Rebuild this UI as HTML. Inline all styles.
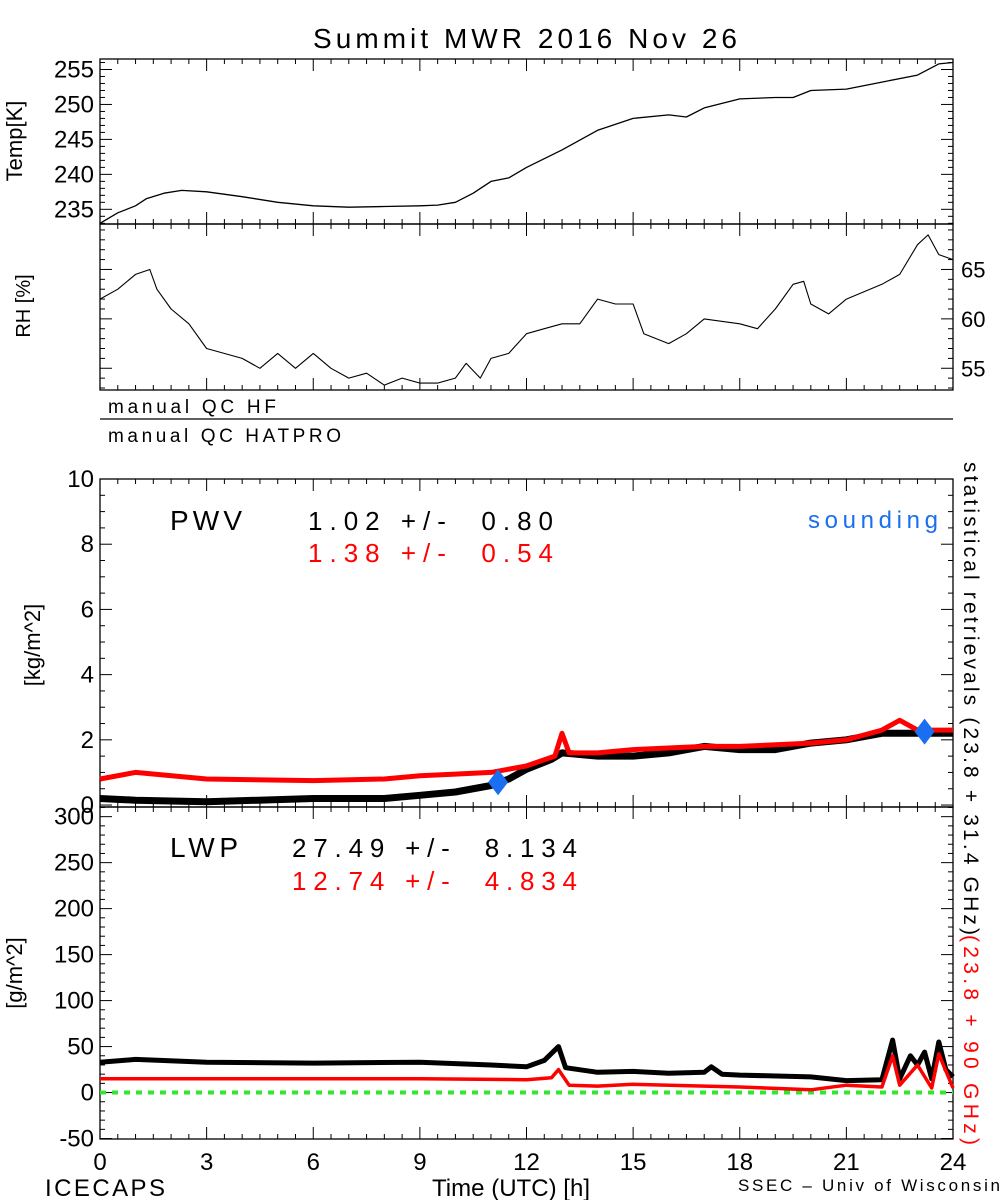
<!DOCTYPE html>
<html><head><meta charset="utf-8">
<style>
html,body{margin:0;padding:0;background:#fff;}
svg{display:block;font-family:"Liberation Sans",sans-serif;}
text{white-space:pre;}
</style></head>
<body>
<svg id="chart" width="1000" height="1200" viewBox="0 0 1000 1200" xmlns="http://www.w3.org/2000/svg">
<rect width="1000" height="1200" fill="#fff"/>
<text x="313" y="48" font-size="28" textLength="424" lengthAdjust="spacing">Summit MWR 2016 Nov 26</text>
<g id="g"></g>
<text x="108" y="413" font-size="19" textLength="168" lengthAdjust="spacing">manual QC HF</text>
<line x1="100" y1="419" x2="953" y2="419" stroke="#000" stroke-width="1.3"/>
<text x="108" y="442" font-size="19" textLength="233" lengthAdjust="spacing">manual QC HATPRO</text>
<text x="170" y="530" font-size="28" textLength="72" lengthAdjust="spacing">PWV</text>
<text x="308" y="530" font-size="26" textLength="245" lengthAdjust="spacing">1.02 +/-  0.80</text>
<text x="308" y="562" font-size="26" fill="#f00" textLength="245" lengthAdjust="spacing">1.38 +/-  0.54</text>
<text x="808" y="528" font-size="24" fill="#1a6ff0" textLength="130" lengthAdjust="spacing">sounding</text>
<text x="170" y="857" font-size="28" textLength="68" lengthAdjust="spacing">LWP</text>
<text x="292" y="857" font-size="26" textLength="285" lengthAdjust="spacing">27.49 +/-  8.134</text>
<text x="292" y="890" font-size="26" fill="#f00" textLength="285" lengthAdjust="spacing">12.74 +/-  4.834</text>
<text transform="translate(964,462) rotate(90)" font-size="21" textLength="473" lengthAdjust="spacing">statistical retrievals (23.8 + 31.4 GHz)</text>
<text transform="translate(964,935) rotate(90)" font-size="21" fill="#f00" textLength="210" lengthAdjust="spacing">(23.8 + 90 GHz)</text>
<text transform="translate(22,141) rotate(-90)" font-size="22" text-anchor="middle">Temp[K]</text>
<text transform="translate(30,306) rotate(-90)" font-size="20" text-anchor="middle">RH [%]</text>
<text transform="translate(40,645) rotate(-90)" font-size="22" text-anchor="middle">[kg/m^2]</text>
<text transform="translate(22,973) rotate(-90)" font-size="22" text-anchor="middle">[g/m^2]</text>
<text x="45" y="1196" font-size="24" textLength="120" lengthAdjust="spacing">ICECAPS</text>
<text x="432" y="1196" font-size="24" textLength="158" lengthAdjust="spacing">Time (UTC) [h]</text>
<text x="738" y="1191" font-size="17" textLength="262" lengthAdjust="spacing">SSEC – Univ of Wisconsin</text>
</svg>
<script>
const hours=[0,3,6,9,12,15,18,21,24];
const tempT=[0,0.5,1,1.3,1.8,2.3,3,4,5,6,7,8,9,9.5,10,10.5,11,11.5,12,13,14,15,16,16.5,17,18,19,19.5,20,21,22,23,23.6,24];
const tempV=[233,234.5,235.5,236.5,237.3,237.7,237.5,236.8,236,235.5,235.3,235.4,235.5,235.6,236,237.3,239,239.5,241,243.5,246.3,248,248.5,248.2,249.5,250.8,251,251,252,252.2,253.2,254.2,255.8,256];
const rhT=[0,0.5,1,1.4,1.6,2,2.5,3,4,4.5,5,5.5,6,6.5,7,7.5,8,8.5,9,9.5,10,10.3,10.7,11,11.5,12,12.5,13,13.5,14,14.5,15,15.3,16,16.5,17,18,18.5,19,19.5,19.8,20,20.5,21,22,22.5,23,23.3,23.6,24];
const rhV=[62,63,64.5,65,63,61,59.5,57,56,55,56.5,55,56.5,55,54,54.5,53.3,54,53.5,53.5,54,55.5,54,56,56.5,58.5,59,59.5,59.5,62,61.5,61.5,58.5,57.5,58.5,60,59.5,59,61,63.5,63.8,61.5,60.5,62,63.5,64.5,67.5,68.5,66.5,66];
const pwvT=[0,1,3,6,8,9,10,11,11.5,12,12.7,13,14,15,16,17,18,19,20,21,22,23,24];
const pwvBlack=[0.2,0.15,0.1,0.2,0.2,0.3,0.4,0.6,0.8,1.1,1.4,1.6,1.5,1.5,1.6,1.8,1.7,1.7,1.9,2.0,2.2,2.2,2.2];
const pwvRedT=[0,1,3,6,8,9,10,11,12,12.8,13,13.2,14,15,17,18,20,21,22,22.5,23,24];
const pwvRed=[0.8,1.0,0.8,0.75,0.8,0.9,0.95,1.0,1.2,1.5,2.2,1.6,1.6,1.7,1.8,1.8,1.9,2.0,2.3,2.6,2.3,2.3];
const soundT=[11.2,23.2];
const soundV=[0.7,2.25];
const lwpBT=[0,1,3,6,9,11,12,12.5,12.9,13.1,14,15,16,17,17.2,17.5,18,20,21,22,22.3,22.5,22.8,23,23.2,23.4,23.6,23.8,24];
const lwpBlack=[33,36,33,32,33,30,28,35,50,27,22,23,21,22,28,20,19,17,13,14,57,15,40,30,44,15,55,25,17];
const lwpRT=[0,6,9,12,12.7,12.9,13.2,14,15,18,20,21,22,22.3,22.5,23,23.4,23.6,24];
const lwpRed=[15,15,15,14,16,25,8,7,9,6,3,8,6,40,8,30,5,42,5];
const tempTicks=[235,240,245,250,255];
const rhTicks=[55,60,65];
const pwvTicks=[0,2,4,6,8,10];
const lwpTicks=[-50,0,50,100,150,200,250,300];

const NS="http://www.w3.org/2000/svg";
const g=document.getElementById('g');
const L=100,R=953;
const X=h=>L+(R-L)*h/24;
function mk(t,a){const e=document.createElementNS(NS,t);for(const k in a)e.setAttribute(k,a[k]);g.appendChild(e);return e;}
function yScale(top,bot,vTop,vBot){return v=>top+(v-vTop)/(vBot-vTop)*(bot-top);}
const yT=yScale(59,224,256.5,232.9);
const yRH=yScale(224,390,69.6,52.8);
const yP=yScale(479,807,10,-0.06);
const yL=yScale(807,1139,310.5,-50.5);

function frame(top,bot,name){
  const r=mk('rect',{x:L,y:top,width:R-L,height:bot-top,fill:'none',stroke:'#000','stroke-width':1.3});
  
  
  for(let h=0;h<=24;h+=0.5){
    const len=(h%3===0)?12:5;
    const t1=mk('line',{x1:X(h),x2:X(h),y1:bot,y2:bot-len,stroke:'#000'});
    
    
    const t2=mk('line',{x1:X(h),x2:X(h),y1:top,y2:top+len,stroke:'#000'});
    
    
  }
}
function yticks(ys,ticks,minorStep,vmin,vmax,labelSide,name,fs){
  for(let v=Math.ceil(vmin/minorStep)*minorStep;v<=vmax+1e-9;v+=minorStep){
    const major=ticks.some(t=>Math.abs(t-v)<1e-6);
    const len=major?12:5;
    const a=mk('line',{x1:L,x2:L+len,y1:ys(v),y2:ys(v),stroke:'#000'});
    
    
    const b=mk('line',{x1:R,x2:R-len,y1:ys(v),y2:ys(v),stroke:'#000'});
    
    
  }
  ticks.forEach(v=>{
    const t=mk('text',{x:labelSide==='left'?L-6:R+8,y:ys(v)+8,'font-size':fs,'text-anchor':labelSide==='left'?'end':'start'});
    t.textContent=v;
    
    
  });
}
function line(ts,vs,ys,color,w,name){
  const d=ts.map((t,i)=>(i?'L':'M')+X(t).toFixed(1)+','+ys(vs[i]).toFixed(1)).join('');
  const p=mk('path',{d:d,fill:'none',stroke:color,'stroke-width':w,'stroke-linejoin':'round'});
  
  
}
frame(59,224,'temp');
yticks(yT,tempTicks,1,233,256,'left','temp',24);
line(tempT,tempV,yT,'#000',1.3,'temp-line');
frame(224,390,'rh');
yticks(yRH,rhTicks,1,53,69,'right','rh',22);
line(rhT,rhV,yRH,'#000',1.1,'rh-line');
frame(479,807,'pwv');
yticks(yP,pwvTicks,0.5,0,10,'left','pwv',24);
line(pwvT,pwvBlack,yP,'#000',7,'pwv-black-line');
line(pwvRedT,pwvRed,yP,'#f00',5,'pwv-red-line');
soundT.forEach((t,i)=>{
  const cx=X(t),cy=yP(soundV[i]);
  const d=mk('polygon',{points:`${cx},${cy-13} ${cx+10},${cy} ${cx},${cy+13} ${cx-10},${cy}`,fill:'#1a6ff0'});
  
  
});
frame(807,1139,'lwp');
yticks(yL,lwpTicks,10,-50,310,'left','lwp',24);
const z=mk('line',{x1:L,x2:R,y1:yL(0),y2:yL(0),stroke:'#2ee82e','stroke-width':4,'stroke-dasharray':'6,6'});


line(lwpBT,lwpBlack,yL,'#000',5,'lwp-black-line');
line(lwpRT,lwpRed,yL,'#f00',3.5,'lwp-red-line');
hours.forEach(h=>{
  const t=mk('text',{x:X(h),y:1170,'font-size':24,'text-anchor':'middle'});
  t.textContent=h;
  
  
});
</script>
</body></html>
